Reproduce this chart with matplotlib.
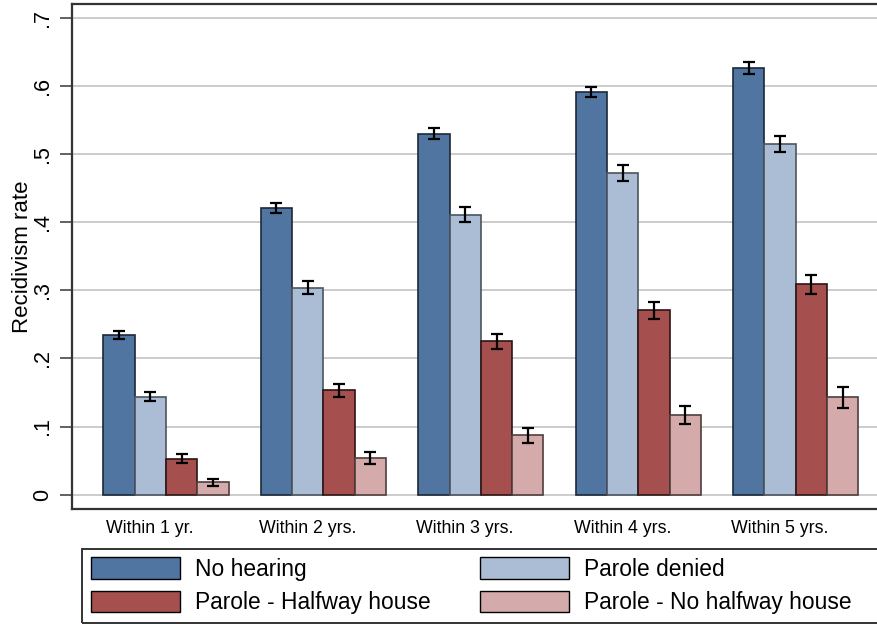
import numpy as np
import matplotlib.pyplot as plt
from matplotlib.patches import Patch, Rectangle
from matplotlib.transforms import ScaledTranslation

plt.rcParams['font.family'] = ['Liberation Sans', 'DejaVu Sans']

# recidivism rates by time since release and parole outcome
periods = ['Within 1 yr.', 'Within 2 yrs.', 'Within 3 yrs.', 'Within 4 yrs.', 'Within 5 yrs.']
groups = ['No hearing', 'Parole denied', 'Parole - Halfway house', 'Parole - No halfway house']

no_hearing = [0.234, 0.421, 0.530, 0.591, 0.626]
parole_denied = [0.144, 0.304, 0.411, 0.472, 0.515]
halfway_house = [0.053, 0.153, 0.225, 0.271, 0.309]
no_halfway = [0.018, 0.054, 0.087, 0.117, 0.143]

# 95% CI half-widths
err_no_hearing = [0.006, 0.0073, 0.0078, 0.008, 0.0083]
err_denied = [0.0068, 0.0098, 0.0108, 0.0112, 0.012]
err_halfway = [0.006, 0.0095, 0.0112, 0.0125, 0.0139]
err_no_halfway = [0.0046, 0.0083, 0.011, 0.0132, 0.0154]

series = [no_hearing, parole_denied, halfway_house, no_halfway]
errors = [err_no_hearing, err_denied, err_halfway, err_no_halfway]
colors = ['#5075a1', '#aabdd4', '#a5504e', '#d5aaaa']
edges = ['#1c2838', '#4c545e', '#2e1515', '#4f3d3d']

fig = plt.figure(figsize=(8.78, 6.24), dpi=100)
W, H = 878, 624
ax = fig.add_axes([72 / W, (H - 509) / H, 818 / W, 505 / H])

x = np.arange(len(periods))
w = 0.199
for i, (vals, errs) in enumerate(zip(series, errors)):
    pos = x + (i - 1.5) * w
    ax.bar(pos, vals, width=w, color=colors[i], edgecolor=edges[i], linewidth=1.2, zorder=2)
    ax.errorbar(pos, vals, yerr=errs, fmt='none', ecolor='black', elinewidth=1.6,
                capsize=4.6, capthick=1.6, zorder=3)

ax.set_xlim(-0.597, 4.599)
ax.set_ylim(-0.021, 0.7201)

yt = np.arange(0, 0.71, 0.1)
ax.set_yticks(yt)
ax.set_yticklabels(['0', '.1', '.2', '.3', '.4', '.5', '.6', '.7'], rotation=90,
                   va='center', fontsize=15.5)
ax.tick_params(axis='y', length=9, width=1.3, color='#555555', pad=4.5)
ax.yaxis.grid(True, color='#c8c8c8', linewidth=1.3, zorder=0)
ax.set_axisbelow(True)

ax.set_xticks(x)
ax.set_xticklabels(periods, fontsize=12.8)
ax.tick_params(axis='x', length=0, pad=8)
shift = ScaledTranslation(-0.16, 0, fig.dpi_scale_trans)
for lab in ax.get_xticklabels():
    lab.set_transform(lab.get_transform() + shift)

ax.set_ylabel('Recidivism rate', fontsize=16)
ax.yaxis.set_label_coords(-0.048, 0.5)

for s in ax.spines.values():
    s.set_color('#333333')
    s.set_linewidth(1.6)

# legend box below the plot, entries filled row by row
fig.patches.append(Rectangle((81.7 / W, 1.5 / H), 1.0, (H - 549.3 - 1.5) / H,
                             transform=fig.transFigure, fill=False,
                             edgecolor='#333333', linewidth=1.4))
handles = [Patch(facecolor=c, edgecolor='black', linewidth=1.0) for c in colors]
order = [0, 2, 1, 3]
fig.legend([handles[k] for k in order], [groups[k] for k in order], ncol=2,
           loc='upper left', frameon=False,
           bbox_to_anchor=(90.7 / W, (H - 557.0) / H), borderpad=0, borderaxespad=0,
           fontsize=16.4, handlelength=3.9, handleheight=1.08, handletextpad=0.66,
           columnspacing=2.17, labelspacing=0.45)

fig.savefig('out.png', dpi=100)
